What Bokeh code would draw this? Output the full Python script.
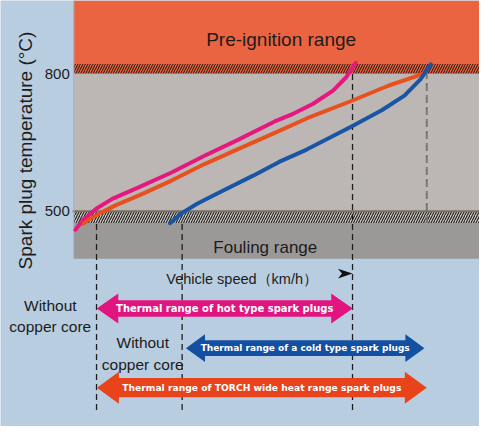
from bokeh.plotting import figure
from bokeh.models import Range1d, FixedTicker, ColumnDataSource
from bokeh.core.properties import value
from bokeh.embed import file_html
from bokeh.resources import INLINE

# ---------------- data ----------------
temp_ticks = [500, 800]

# temperature bands (°C)
preign_lo, preign_hi = 822, 960        # solid pre-ignition band
preign_hatch = (800, 822)              # hatched border above 800
normal_band = (500, 800)
foul_hatch = (474, 500)                # hatched border below 500
foul_lo, foul_hi = 396, 474            # fouling band

# vehicle speed (arbitrary units, 0..100 across the chart)
hot_speed = [0.4, 2.4, 5.6, 9.6, 16.1, 24.1, 32.1, 40.2, 49.4, 54.2, 59.0, 63.9, 67.1, 68.7, 69.5]
hot_temp = [459.7, 481.8, 506.0, 527.4, 552.5, 584.6, 620.4, 654.7, 695.4, 713.2, 734.6, 763.1, 791.9, 813.3, 824.0]

torch_speed = [2.4, 3.6, 6.4, 10.4, 16.1, 24.1, 32.1, 40.2, 49.4, 57.4, 68.7, 77.5, 86.3]
torch_temp = [473.2, 481.1, 495.3, 513.3, 534.7, 566.9, 602.4, 634.6, 670.4, 702.5, 741.7, 773.9, 800.4]

cold_speed = [23.7, 26.5, 30.5, 36.1, 44.2, 50.6, 57.4, 68.7, 75.9, 81.5, 85.5, 88.0]
cold_temp = [473.9, 495.3, 516.7, 541.8, 577.6, 607.6, 634.6, 686.0, 720.3, 752.4, 788.2, 820.4]

# speeds where the curves cross the limits (dashed markers)
mark_speed = [5.6, 26.7, 68.7, 87.0]
mark_top = [474, 474, 822, 800]
mark_bottom = [66, 66, 66, 474]

# thermal range arrows
arrow_labels = ["Thermal range of hot type spark plugs",
                "Thermal range of a cold type spark plugs",
                "Thermal range of TORCH wide heat range spark plugs"]
arrow_from = [5.66, 27.64, 5.71]
arrow_to = [68.75, 86.43, 86.99]
arrow_row = [287.6, 201.1, 114.7]

note_lines = ["Without", "copper core", "Without", "copper core"]

# ---------------- styles ----------------
PANEL = "#b9cde1"
ORANGE_BAND = "#eb6441"
GRAY_BAND = "#bcb7b5"
HATCH_BG_LOW = "#cdc8c2"
FOUL_BAND = "#9b9998"
HOT = "#e5187f"
TORCH = "#e8501e"
COLD = "#1a55a5"
ARROW_COLORS = ["#e2147f", "#1450a2", "#e8431a"]
TEXT = "#1c1c1c"
FONT = "Liberation Sans"

p = figure(width=479, height=426,
           x_range=Range1d(-18.07, 100), y_range=Range1d(30, 960),
           output_backend="svg", toolbar_location=None,
           x_axis_location=None, min_border=0,
           background_fill_color=PANEL, border_fill_color=PANEL,
           outline_line_color=None)
p.grid.visible = False

# y axis placed at the chart's left edge
ax = p.yaxis[0]
ax.fixed_location = 0
ax.ticker = FixedTicker(ticks=temp_ticks)
ax.bounds = (304, 960)
ax.axis_line_color = None
ax.major_tick_line_color = None
ax.minor_tick_line_color = None
ax.major_tick_in = 0
ax.major_tick_out = 0
ax.major_label_standoff = 4
ax.major_label_text_font = FONT
ax.major_label_text_font_size = "15px"
ax.major_label_text_color = TEXT
ax.axis_label = "Spark plug temperature (°C)"
ax.axis_label_text_font = FONT
ax.axis_label_text_font_size = "19px"
ax.axis_label_text_font_style = "normal"
ax.axis_label_text_color = TEXT
ax.axis_label_standoff = 5

# bands
p.quad(left=0, right=100, bottom=preign_lo, top=preign_hi, fill_color=ORANGE_BAND, line_color=None)
p.quad(left=0, right=100, bottom=preign_hatch[0], top=preign_hatch[1], fill_color=ORANGE_BAND,
       line_color=None, hatch_pattern="/", hatch_color="#3b1f17", hatch_scale=5, hatch_weight=1.1)
p.quad(left=0, right=100, bottom=normal_band[0], top=normal_band[1], fill_color=GRAY_BAND, line_color=None)
p.quad(left=0, right=100, bottom=foul_hatch[0], top=foul_hatch[1], fill_color=HATCH_BG_LOW,
       line_color=None, hatch_pattern="/", hatch_color="#1e1e1e", hatch_scale=5, hatch_weight=1.1)
p.quad(left=0, right=100, bottom=foul_lo, top=foul_hi, fill_color=FOUL_BAND, line_color=None)
p.segment(x0=-0.3, x1=100, y0=normal_band[0], y1=normal_band[0], line_color="#77725f", line_width=2)
p.segment(x0=0, x1=0, y0=foul_lo, y1=preign_hi, line_color="#9fb2c6", line_width=1)

# dashed speed markers
p.segment(x0=mark_speed[:3], x1=mark_speed[:3], y0=mark_bottom[:3], y1=mark_top[:3],
          line_color="#1e1e1e", line_width=1.3, line_dash="6 4")
p.segment(x0=mark_speed[3:], x1=mark_speed[3:], y0=mark_bottom[3:], y1=mark_top[3:],
          line_color="#7c766d", line_width=2, line_dash="8 4")

# curves
for xs, ys, c in [(hot_speed, hot_temp, HOT), (torch_speed, torch_temp, TORCH), (cold_speed, cold_temp, COLD)]:
    p.line(xs, ys, line_color=c, line_width=4, line_cap="round", line_join="round")

# text labels in the bands
p.text(x=[51.1], y=[873.9], text=["Pre-ignition range"], text_font=value(FONT),
       text_font_size="19px", text_color=TEXT, text_align="center", text_baseline="alphabetic")
p.text(x=[47.2], y=[421.8], text=["Fouling range"], text_font=value(FONT),
       text_font_size="17px", text_color=TEXT, text_align="center", text_baseline="alphabetic")

# x axis caption with arrowhead
p.text(x=[22.8], y=[352.6], text=["Vehicle speed（km/h）"], text_font=value(FONT),
       text_font_size="14.5px", text_color=TEXT, text_align="left", text_baseline="alphabetic")
ah_x = mark_speed[2]
ah_y = 363.9
p.patch([ah_x, ah_x - 3.6, ah_x - 2.6, ah_x - 3.6], [ah_y, ah_y + 10.7, ah_y, ah_y - 10.7],
        fill_color="#111111", line_color=None)

# double-headed arrows
def arrow_poly(x0, x1, y, body, head, hl):
    xs = [x0, x0 + hl, x0 + hl, x1 - hl, x1 - hl, x1, x1 - hl, x1 - hl, x0 + hl, x0 + hl]
    ys = [y, y + head, y + body, y + body, y + head, y, y - head, y - body, y - body, y - head]
    return xs, ys

arrow_shape = [(17.8, 32.8, 5.3), (17.1, 30.4, 4.7), (21.0, 35.0, 5.4)]
axs, ays = [], []
for a, b, r, (bh, hh, hl) in zip(arrow_from, arrow_to, arrow_row, arrow_shape):
    xs, ys = arrow_poly(a, b, r, bh, hh, hl)
    axs.append(xs)
    ays.append(ys)
p.patches(axs, ays, fill_color=ARROW_COLORS, line_color=None)

src = ColumnDataSource(dict(
    x=[(a + b) / 2 for a, b in zip(arrow_from, arrow_to)],
    y=arrow_row,
    text=arrow_labels,
    size=["10px", "9px", "9.2px"],
))
p.text(x="x", y="y", text="text", source=src, text_font=value("DejaVu Sans"),
       text_font_style="bold", text_font_size="size", text_color="white",
       text_align="center", text_baseline="middle")

# "Without copper core" notes
p.text(x=[-5.8, -5.8, 17.0, 17.0], y=[293.2, 248.8, 213.3, 164.6], text=note_lines,
       text_font=value(FONT), text_font_size="15.5px", text_color=TEXT,
       text_align="center", text_baseline="alphabetic")

open("out.html", "w").write(file_html(p, INLINE))
